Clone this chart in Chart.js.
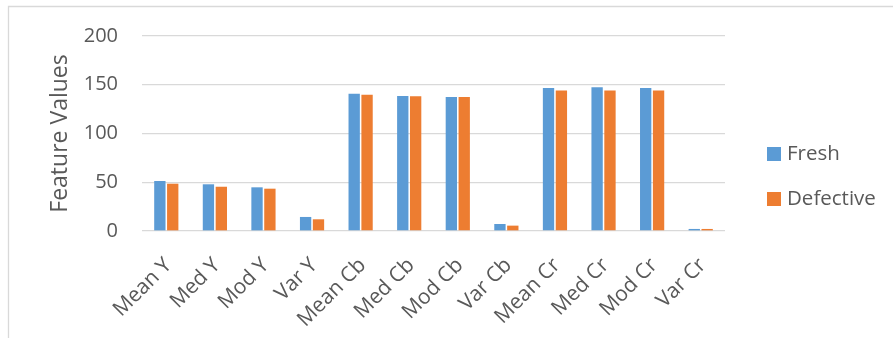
<!DOCTYPE html>
<html>
<head>
<meta charset="utf-8">
<style>
  html, body { margin: 0; padding: 0; background: #ffffff; }
  #wrap { position: relative; width: 893px; height: 338px; }
</style>
<script src="https://cdn.jsdelivr.net/npm/chart.js@4/dist/chart.umd.min.js"></script>
</head>
<body>
<div id="wrap"><canvas id="chart" width="893" height="338"></canvas></div>
<script>
// Colour features per image class
const categories = ['Mean Y', 'Med Y', 'Mod Y', 'Var Y', 'Mean Cb', 'Med Cb', 'Mod Cb', 'Var Cb', 'Mean Cr', 'Med Cr', 'Mod Cr', 'Var Cr'];
const freshValues = [51.3, 47.9, 44.8, 14.4, 140.8, 138.5, 137.4, 7.2, 146.7, 147.4, 146.7, 2.1];
const defectiveValues = [48.5, 45.4, 43.4, 12.0, 139.8, 138.1, 137.4, 5.5, 144.0, 144.0, 144.0, 2.1];
const yTicks = [0, 50, 100, 150, 200];

const FONT = '"Open Sans", sans-serif';
const TEXT = '#595959';
const GRID = '#d9d9d9';

// Outer frame and side legend drawn on the canvas
const framePlugin = {
  id: 'frame',
  beforeDraw(chart) {
    const ctx = chart.ctx;
    ctx.save();
    ctx.fillStyle = '#ffffff';
    ctx.fillRect(0, 0, chart.width, chart.height);
    ctx.strokeStyle = GRID;
    ctx.lineWidth = 1.3;
    ctx.beginPath();
    ctx.moveTo(8.5, chart.height);
    ctx.lineTo(8.5, 6.5);
    ctx.lineTo(chart.width, 6.5);
    ctx.stroke();
    ctx.restore();
  },
  afterDraw(chart) {
    const ctx = chart.ctx;
    ctx.save();
    ctx.font = '20.5px ' + FONT;
    ctx.textBaseline = 'middle';
    ctx.textAlign = 'left';
    chart.data.datasets.forEach((ds, i) => {
      const y = 154 + i * 45;
      ctx.fillStyle = ds.backgroundColor;
      ctx.fillRect(767, y - 7, 14, 14);
      ctx.fillStyle = TEXT;
      ctx.fillText(ds.label, 787, y);
    });
    ctx.restore();
  }
};

new Chart(document.getElementById('chart'), {
  type: 'bar',
  data: {
    labels: categories,
    datasets: [
      { label: 'Fresh', data: freshValues, backgroundColor: '#5b9bd5', borderWidth: 0 },
      { label: 'Defective', data: defectiveValues, backgroundColor: '#ed7d31', borderWidth: 0 }
    ]
  },
  options: {
    responsive: false,
    animation: false,
    devicePixelRatio: 1,
    layout: { padding: { left: 44, top: 36, right: 168, bottom: 0 } },
    plugins: { legend: { display: false }, tooltip: { enabled: false } },
    datasets: { bar: { categoryPercentage: 0.53, barPercentage: 0.88 } },
    scales: {
      x: {
        grid: { display: false, drawTicks: false },
        border: { display: false },
        ticks: {
          color: TEXT,
          font: { family: FONT, size: 21 },
          minRotation: 45,
          maxRotation: 45,
          padding: 22,
          labelOffset: 2,
          autoSkip: false
        },
        afterFit(scale) { scale.height = 107; }
      },
      y: {
        min: 0,
        max: 200,
        afterBuildTicks(scale) { scale.ticks = yTicks.map(v => ({ value: v })); },
        grid: { color: GRID, lineWidth: 1.3, drawTicks: false },
        border: { display: false },
        ticks: {
          color: TEXT,
          font: { family: FONT, size: 20 },
          padding: 24
        },
        title: {
          display: true,
          text: 'Feature Values',
          color: TEXT,
          font: { family: FONT, size: 23 },
          padding: { top: 3, bottom: 0 }
        },
        afterFit(scale) { scale.width = 98; }
      }
    }
  },
  plugins: [framePlugin]
});
</script>
</body>
</html>
